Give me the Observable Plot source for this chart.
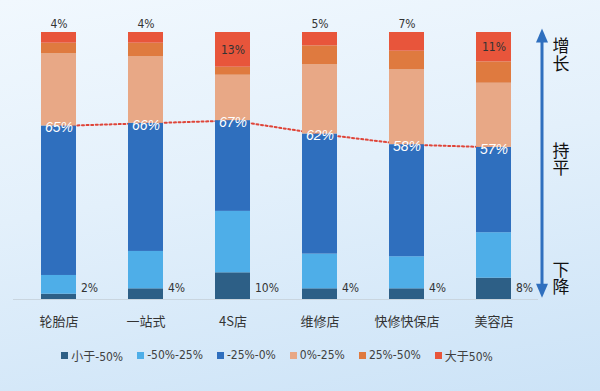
<!DOCTYPE html>
<html>
<head>
<meta charset="utf-8">
<script src="https://cdn.jsdelivr.net/npm/d3@7"></script>
<script src="https://cdn.jsdelivr.net/npm/@observablehq/plot@0.6"></script>
<style>
  html, body { margin: 0; padding: 0; }
  body {
    width: 600px; height: 391px; overflow: hidden;
    background: linear-gradient(170deg, #f1f8fe 0%, #e3f0fb 45%, #cce3f7 100%);
    font-family: "Noto Sans CJK SC", "Liberation Sans", sans-serif;
  }
  #chart svg { display: block; }
  #legend {
    display: flex; justify-content: center; align-items: center;
    width: 600px; height: 40px; padding-right: 46px; box-sizing: border-box;
    font-family: "Liberation Sans Narrow", "DejaVu Sans Condensed", "Noto Sans CJK SC", sans-serif;
    font-size: 12px; color: #404040;
  }
  #legend .item { display: flex; align-items: center; margin: 0 7px; }
  #legend .sw { width: 7px; height: 7px; margin-right: 3px; }
</style>
</head>
<body>
<div id="chart"></div>
<div id="legend"></div>
<script>
// Store types and the share of stores in each change bracket (%)
const categories = ["轮胎店", "一站式", "4S店", "维修店", "快修快保店", "美容店"];
const seriesNames = ["小于-50%", "-50%-25%", "-25%-0%", "0%-25%", "25%-50%", "大于50%"];
const below50 = [2, 4, 10, 4, 4, 8];
const minus50to25 = [7, 14, 23, 13, 12, 17];
const minus25to0 = [56, 48, 34, 45, 42, 32];
const zeroTo25 = [27, 25, 17, 26, 28, 24];
const plus25to50 = [4, 5, 3, 7, 7, 8];
const above50 = [4, 4, 13, 5, 7, 11];
const seriesColors = ["#2d5f86", "#4eaee8", "#2f6fbe", "#e8a886", "#df7a3f", "#e8553b"];
const sideLabels = ["增长", "持平", "下降"];

const seriesValues = [below50, minus50to25, minus25to0, zeroTo25, plus25to50, above50];

// long table for the stacked bars, bottom bracket first
const rows = categories.flatMap((c, i) =>
  seriesNames.map((s, j) => ({category: c, series: s, value: seriesValues[j][i]})));

// share at or below 0% (sum of the three lower brackets)
const flatShare = categories.map((c, i) => ({category: c, value: below50[i] + minus50to25[i] + minus25to0[i]}));
const topLabels = categories.map((c, i) => ({category: c, value: above50[i]}));
const bottomLabels = categories.map((c, i) => ({category: c, value: below50[i]}));

const blue = "#2f6fbe";
const lastCategory = categories[categories.length - 1];

// arrow head with its tip at the origin, pointing up
const arrowHead = {
  draw(ctx) {
    ctx.moveTo(0, 0);
    ctx.lineTo(6, 14);
    ctx.lineTo(-6, 14);
    ctx.closePath();
  }
};

const chart = Plot.plot({
  width: 600,
  height: 335,
  marginLeft: 13,
  marginRight: 62,
  marginTop: 32,
  marginBottom: 36,
  x: {domain: categories, paddingInner: 0.6, paddingOuter: 0.3, label: null, axis: null},
  y: {domain: [0, 100], axis: null},
  color: {domain: seriesNames, range: seriesColors},
  style: {background: "transparent", fontFamily: "\"Noto Sans CJK SC\", \"Liberation Sans\", sans-serif"},
  marks: [
    Plot.ruleY([0], {stroke: "#c9d5df", strokeWidth: 1}),
    Plot.axisX({tickSize: 0, tickPadding: 17, fontSize: 13, fill: "#333", label: null}),
    Plot.line(flatShare, {x: "category", y: "value", stroke: "#df4539", strokeWidth: 2, strokeDasharray: "2 2.6"}),
    Plot.barY(rows, {x: "category", y: "value", fill: "series"}),
    Plot.text(flatShare, {
      x: "category", y: "value", text: d => d.value + "%",
      fill: "white", fontSize: 14, fontStyle: "italic", dy: 2,
      fontFamily: "\"Liberation Sans\", sans-serif"
    }),
    Plot.text(topLabels, {
      x: "category",
      y: d => d.value >= 10 ? 100 - d.value / 2 : 103,
      text: d => d.value + "%",
      fill: "#333", fontSize: 12,
      fontFamily: "\"Liberation Sans Narrow\", \"DejaVu Sans Condensed\", sans-serif"
    }),
    Plot.text(bottomLabels, {
      x: "category", y: 0, text: d => d.value + "%",
      dx: 22, dy: -11, textAnchor: "start",
      fill: "#333", fontSize: 12,
      fontFamily: "\"Liberation Sans Narrow\", \"DejaVu Sans Condensed\", sans-serif"
    }),
    // trend arrow on the right: up = 增长, down = 下降
    Plot.ruleX([lastCategory], {y1: 3, y2: 97, dx: 48, stroke: blue, strokeWidth: 3}),
    Plot.dot([101.5], {x: () => lastCategory, y: d => d, dx: 48, symbol: arrowHead, r: 6, fill: blue, stroke: null}),
    Plot.dot([0.7], {x: () => lastCategory, y: d => d, dx: 48, symbol: arrowHead, r: 6, rotate: 180, fill: blue, stroke: null}),
    Plot.text(sideLabels, {
      x: () => lastCategory, y: [93.7, 54.5, 9.9], text: d => d,
      dx: 67, fontSize: 17, fill: "#111"
    })
  ]
});

// set the trend words upright in a vertical column
d3.select(chart).selectAll("text")
  .filter(function() { return sideLabels.includes(this.textContent); })
  .attr("dy", null)
  .style("writing-mode", "vertical-rl")
  .style("letter-spacing", "0.5px")
  .style("dominant-baseline", "central");

document.getElementById("chart").appendChild(chart);

// legend under the chart
const legend = document.getElementById("legend");
seriesNames.forEach((s, i) => {
  const item = document.createElement("div");
  item.className = "item";
  const sw = document.createElement("span");
  sw.className = "sw";
  sw.style.background = seriesColors[i];
  const label = document.createElement("span");
  label.textContent = s;
  item.appendChild(sw);
  item.appendChild(label);
  legend.appendChild(item);
});
</script>
</body>
</html>
